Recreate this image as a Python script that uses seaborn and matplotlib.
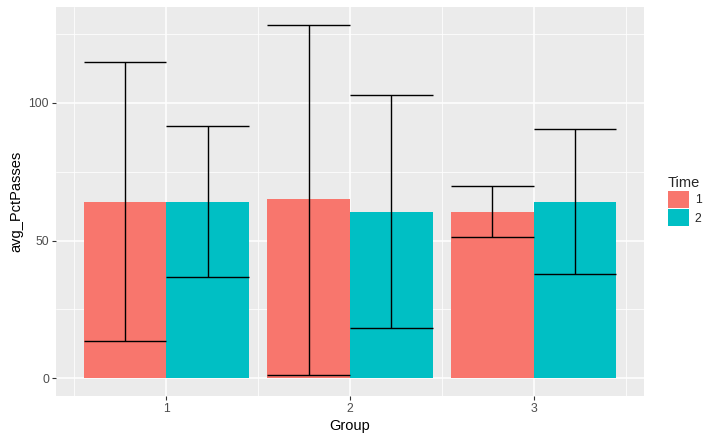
import matplotlib
matplotlib.use("Agg")
import matplotlib.pyplot as plt
from matplotlib.patches import Patch
from matplotlib.ticker import FixedLocator
import seaborn as sns
import pandas as pd

groups = ["1", "1", "2", "2", "3", "3"]
times = ["1", "2", "1", "2", "1", "2"]
avg_pct = [64.1, 64.1, 64.9, 60.5, 60.5, 64.1]
err_lo = [13.7, 36.6, 1.1, 18.1, 51.4, 38.0]
err_hi = [114.9, 91.4, 128.3, 102.9, 69.6, 90.6]

df = pd.DataFrame({"Group": groups, "Time": times, "avg_PctPasses": avg_pct,
                   "lo": err_lo, "hi": err_hi})

sns.set_theme(style="darkgrid")
plt.rcParams["font.family"] = ["Liberation Sans", "DejaVu Sans"]

palette = {"1": "#F8766D", "2": "#00BFC4"}
fig = plt.figure(figsize=(7.14, 4.43), dpi=100)
ax = fig.add_axes([56 / 714, 47 / 443, (644 - 56) / 714, (396 - 7) / 443])
ax.set_facecolor("#EBEBEB")

sns.barplot(data=df, x="Group", y="avg_PctPasses", hue="Time", order=["1", "2", "3"],
            hue_order=["1", "2"], palette=palette, width=0.9, gap=0, errorbar=None,
            saturation=1, ax=ax, legend=False, linewidth=0, zorder=2)

# error bars anchored on bar geometry
bars = [p for p in ax.patches if p.get_height() > 0]
bars = sorted(bars, key=lambda p: p.get_x())
for p, lo, hi in zip(bars, df["lo"], df["hi"]):
    x0, w = p.get_x(), p.get_width()
    xc = x0 + w / 2
    ax.vlines(xc, lo, hi, color="black", lw=1.0, zorder=3)
    ax.hlines([lo, hi], x0, x0 + w, color="black", lw=1.0, zorder=3)

ax.set_xlim(-0.6, 2.6)
ax.set_ylim(-6.4, 134.7)
ax.set_yticks([0, 50, 100])
ax.yaxis.set_minor_locator(FixedLocator([25, 75, 125]))
ax.xaxis.set_minor_locator(FixedLocator([-0.5, 0.5, 1.5, 2.5]))
ax.grid(which="major", color="white", lw=1.1, zorder=0)
ax.grid(which="minor", color="white", lw=0.55, zorder=0)
ax.set_axisbelow(True)
for s in ax.spines.values():
    s.set_visible(False)
ax.tick_params(axis="both", which="major", length=3, width=0.8, color="#333333",
               labelcolor="#4D4D4D", labelsize=8.8, pad=2, bottom=True, left=True)
ax.tick_params(which="minor", length=0)
ax.set_xlabel("Group", fontsize=10.5, color="black", labelpad=3)
ax.set_ylabel("avg_PctPasses", fontsize=10.5, color="black", labelpad=4)

handles = [Patch(facecolor=palette[t], edgecolor="none", label=t) for t in ["1", "2"]]
leg = fig.legend(handles=handles, title="Time", loc="upper left",
                 bbox_to_anchor=(658 / 714, 1 - 166 / 443), frameon=False,
                 fontsize=8.8, title_fontsize=10.5, handlelength=1.75, handleheight=1.75,
                 handletextpad=0.45, labelspacing=0.1, alignment="left", borderpad=0.3)

fig.savefig("out.png", dpi=100)
